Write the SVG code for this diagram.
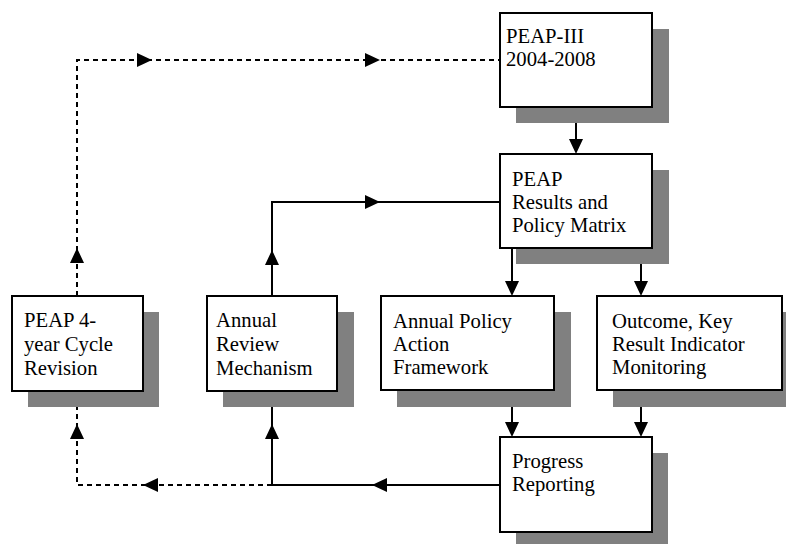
<svg xmlns="http://www.w3.org/2000/svg" xmlns:xlink="http://www.w3.org/1999/xlink" width="786" height="544" viewBox="0 0 786 544">
<style>
.shadow{fill:#808080;stroke:none}
.box{fill:#ffffff;stroke:#000000;stroke-width:2}
.lbl{font-family:"Liberation Serif","Times New Roman",serif;font-size:20.7px;fill:#000000}
.ln{fill:none;stroke:#000000;stroke-width:2}
.dash{stroke-dasharray:5,4}
.ah{fill:#000000}
</style>
<defs>
<path id="arr" class="ah" d="M0,0 L-15,-7 L-15,7 Z"/>
</defs>
<rect x="0" y="0" width="786" height="544" fill="#ffffff"/>
<g id="connectors">
<path class="ln dash" d="M77,296 V60 H499"/>
<path class="ln dash" d="M272,485 H77 V391"/>
<path class="ln" d="M500,485 H272 V391"/>
<path class="ln" d="M272,296 V202 H499"/>
<path class="ln" d="M576,107 V150"/>
<path class="ln" d="M512,248 V293"/>
<path class="ln" d="M641,248 V293"/>
<path class="ln" d="M512,390 V434"/>
<path class="ln" d="M641,390 V434"/>
<use xlink:href="#arr" transform="translate(152,60)"/>
<use xlink:href="#arr" transform="translate(380,60)"/>
<use xlink:href="#arr" transform="translate(77,248) rotate(-90)"/>
<use xlink:href="#arr" transform="translate(576,154) rotate(90)"/>
<use xlink:href="#arr" transform="translate(380,202)"/>
<use xlink:href="#arr" transform="translate(272,250) rotate(-90)"/>
<use xlink:href="#arr" transform="translate(512,296) rotate(90)"/>
<use xlink:href="#arr" transform="translate(641,296) rotate(90)"/>
<use xlink:href="#arr" transform="translate(512,437) rotate(90)"/>
<use xlink:href="#arr" transform="translate(641,437) rotate(90)"/>
<use xlink:href="#arr" transform="translate(372,485) rotate(180)"/>
<use xlink:href="#arr" transform="translate(143,485) rotate(180)"/>
<use xlink:href="#arr" transform="translate(77,424) rotate(-90)"/>
<use xlink:href="#arr" transform="translate(272,424) rotate(-90)"/>
</g>
<g id="peap3">
<rect class="shadow" x="516" y="29" width="153" height="94"/>
<rect class="box" x="500" y="13" width="152" height="94"/>
<text class="lbl" x="506" y="43">PEAP-III</text>
<text class="lbl" x="506" y="66">2004-2008</text>
</g>
<g id="matrix">
<rect class="shadow" x="516" y="170" width="153" height="94"/>
<rect class="box" x="500" y="154" width="152" height="94"/>
<text class="lbl" x="512" y="186">PEAP</text>
<text class="lbl" x="512" y="209">Results and</text>
<text class="lbl" x="512" y="232">Policy Matrix</text>
</g>
<g id="cycle">
<rect class="shadow" x="28" y="312" width="131" height="95"/>
<rect class="box" x="12" y="296" width="131" height="95"/>
<text class="lbl" x="24" y="327">PEAP 4-</text>
<text class="lbl" x="24" y="351">year Cycle</text>
<text class="lbl" x="24" y="375">Revision</text>
</g>
<g id="review">
<rect class="shadow" x="223" y="312" width="131" height="95"/>
<rect class="box" x="207" y="296" width="130" height="95"/>
<text class="lbl" x="216" y="327">Annual</text>
<text class="lbl" x="216" y="351">Review</text>
<text class="lbl" x="216" y="375">Mechanism</text>
</g>
<g id="policy">
<rect class="shadow" x="397" y="312" width="174" height="95"/>
<rect class="box" x="381" y="296" width="173" height="94"/>
<text class="lbl" x="393" y="328">Annual Policy</text>
<text class="lbl" x="393" y="351">Action</text>
<text class="lbl" x="393" y="374">Framework</text>
</g>
<g id="outcome">
<rect class="shadow" x="613" y="312" width="185" height="95"/>
<rect class="box" x="597" y="296" width="185" height="94"/>
<text class="lbl" x="612" y="328">Outcome, Key</text>
<text class="lbl" x="612" y="351">Result Indicator</text>
<text class="lbl" x="612" y="374">Monitoring</text>
</g>
<g id="progress">
<rect class="shadow" x="516" y="453" width="152" height="95"/>
<rect class="box" x="500" y="437" width="152" height="95"/>
<text class="lbl" x="512" y="468">Progress</text>
<text class="lbl" x="512" y="491">Reporting</text>
</g>
</svg>
